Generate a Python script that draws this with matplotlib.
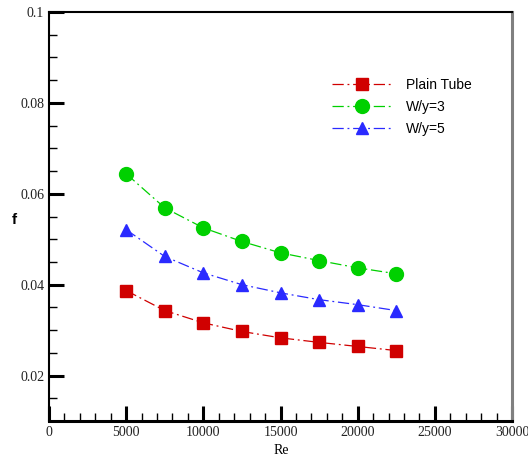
import matplotlib
matplotlib.use("Agg")
import matplotlib.pyplot as plt
from matplotlib.ticker import MultipleLocator

re_vals = [5000, 7500, 10000, 12500, 15000, 17500, 20000, 22500]
f_plain = [0.0387, 0.0343, 0.0316, 0.0297, 0.0283, 0.0273, 0.0264, 0.0255]
f_wy3 = [0.0644, 0.0569, 0.0525, 0.0495, 0.0470, 0.0453, 0.0437, 0.0424]
f_wy5 = [0.0521, 0.0462, 0.0426, 0.0400, 0.0382, 0.0367, 0.0356, 0.0343]

red, green, blue = "#d00000", "#00d000", "#2a2aff"
dashdot = (0, (9, 3, 1.5, 3))

fig = plt.figure(figsize=(5.28, 4.59), dpi=100)
ax = fig.add_axes([49 / 528, 38 / 459, 463 / 528, 409 / 459])

ax.plot(re_vals, f_plain, color=red, linestyle=dashdot, linewidth=0.9,
        marker="s", markersize=8, label="Plain Tube")
ax.plot(re_vals, f_wy3, color=green, linestyle=dashdot, linewidth=0.9,
        marker="o", markersize=10, label="W/y=3")
ax.plot(re_vals, f_wy5, color=blue, linestyle=dashdot, linewidth=0.9,
        marker="^", markersize=8, label="W/y=5")

ax.set_xlim(0, 30000)
ax.set_ylim(0.01, 0.1)
ax.xaxis.set_major_locator(MultipleLocator(5000))
ax.xaxis.set_minor_locator(MultipleLocator(1000))
ax.yaxis.set_major_locator(MultipleLocator(0.02))
ax.yaxis.set_minor_locator(MultipleLocator(0.005))
ax.tick_params(which="major", direction="in", length=11, width=2.2, top=False, right=False)
ax.tick_params(which="minor", direction="in", length=6, width=1.0, top=False, right=False)

ax.set_xticks([0, 5000, 10000, 15000, 20000, 25000, 30000])
ax.set_xticklabels(["0", "5000", "10000", "15000", "20000", "25000", "30000"])
ax.set_yticks([0.02, 0.04, 0.06, 0.08, 0.1])
ax.set_yticklabels(["0.02", "0.04", "0.06", "0.08", "0.1"])
for lab in ax.get_xticklabels() + ax.get_yticklabels():
    lab.set_fontfamily("Liberation Serif")
    lab.set_fontsize(10)
    lab.set_color("#222222")

ax.spines["left"].set_linewidth(1.5)
ax.spines["bottom"].set_linewidth(2.2)
ax.spines["top"].set_linewidth(1.5)
ax.spines["right"].set_linewidth(2.2)
ax.spines["right"].set_color("#808080")

ax.set_xlabel("Re", fontfamily="Liberation Serif", fontsize=10, va="center")
ax.xaxis.set_label_coords(0.502, -0.071)
ax.set_ylabel("f", fontfamily="Liberation Sans", fontsize=11, fontweight="bold",
              rotation=0, va="center", ha="center")
ax.yaxis.set_label_coords(-0.075, 0.491)

leg = ax.legend(loc="upper left", bbox_to_anchor=(0.612, 0.838), frameon=False,
                prop={"family": "Liberation Sans", "size": 10},
                handlelength=4.3, handletextpad=1.0, labelspacing=0.55,
                borderaxespad=0, borderpad=0)

fig.savefig("out.png", dpi=100)
